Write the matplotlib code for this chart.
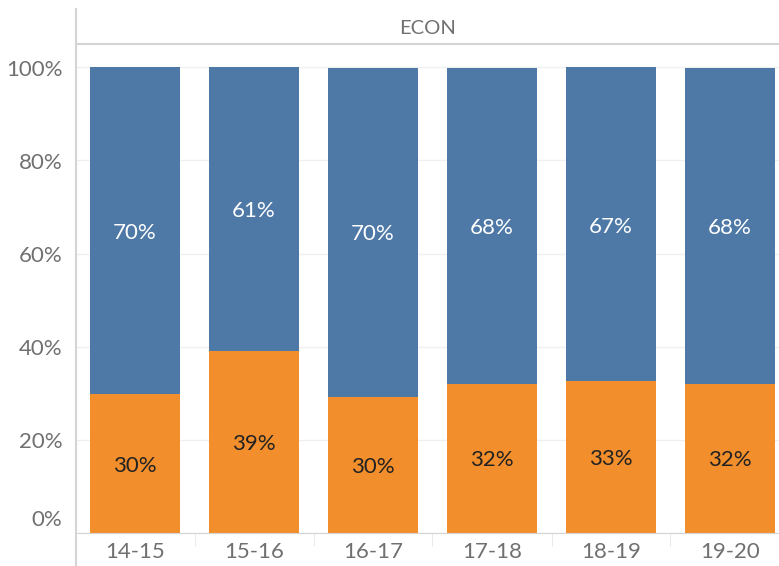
import matplotlib.pyplot as plt
from matplotlib.lines import Line2D

plt.rcParams['font.family'] = ['Lato', 'DejaVu Sans']

years = ['14-15', '15-16', '16-17', '17-18', '18-19', '19-20']
orange_share = [0.297, 0.391, 0.292, 0.320, 0.325, 0.320]
orange_labels = ['30%', '39%', '30%', '32%', '33%', '32%']
blue_labels = ['70%', '61%', '70%', '68%', '67%', '68%']
yticks = [0, 0.2, 0.4, 0.6, 0.8, 1.0]
ytick_labels = ['0%', '20%', '40%', '60%', '80%', '100%']

BLUE = '#4E79A7'
ORANGE = '#F28E2B'
GRAY = '#707070'
LINE = '#d4d4d4'

W, H = 779, 566
fig = plt.figure(figsize=(W / 100, H / 100), dpi=100)
left, bottom_px, top_px = 75.5, 532.5, 43.5
ax = fig.add_axes([left / W, (H - bottom_px) / H, 1 - left / W, (bottom_px - top_px) / H])

x = list(range(len(years)))
blue_share = [1 - v for v in orange_share]
ax.bar(x, orange_share, width=90 / 119, color=ORANGE, zorder=2)
ax.bar(x, blue_share, bottom=orange_share, width=90 / 119, color=BLUE, zorder=2)

for i in x:
    ax.annotate(orange_labels[i], xy=(i, orange_share[i] / 2), xytext=(0, -1.5),
                textcoords='offset points', ha='center', va='center',
                color='#222222', fontsize=16, zorder=3)
    ax.annotate(blue_labels[i], xy=(i, orange_share[i] + blue_share[i] / 2),
                xytext=(0, -1.5), textcoords='offset points', ha='center',
                va='center', color='white', fontsize=16, zorder=3)

ax.set_xlim(-0.5, (W - 135) / 119)
ax.set_ylim(0, (bottom_px - top_px) / 465)
ax.set_yticks(yticks)
ax.set_yticklabels([])
# y labels drawn by hand so the 0% label can sit above the baseline like the original
for v, lab in zip(yticks, ytick_labels):
    dy = 9 if v == 0 else -1.5
    ax.annotate(lab, xy=(0, v), xycoords=('axes fraction', 'data'),
                xytext=(-9.5, dy), textcoords='offset points',
                ha='right', va='center', fontsize=16, color=GRAY)
ax.set_xticks(x)
ax.set_xticklabels(years, fontsize=16, color=GRAY)
ax.set_xticks([i + 0.5 for i in x[:-1]], minor=True)
ax.tick_params(axis='x', which='major', length=0, pad=7)
ax.tick_params(axis='x', which='minor', length=9, color='#e6e6e6')
ax.tick_params(axis='y', length=0)
ax.grid(axis='y', color='#f0f0f0', linewidth=1, zorder=0)

for s in ['left', 'right']:
    ax.spines[s].set_visible(False)
ax.spines['bottom'].set_color(LINE)
ax.spines['top'].set_color(LINE)
ax.spines['top'].set_linewidth(1.5)

# header band and long left rule
fig.add_artist(Line2D([left / W, left / W], [0, (H - 9) / H], color=LINE, linewidth=1.5))
fig.text((left + W) / 2 / W, (H - 28) / H, 'ECON', ha='center', va='center',
         fontsize=14.5, color=GRAY)

fig.savefig('out.png', dpi=100)
